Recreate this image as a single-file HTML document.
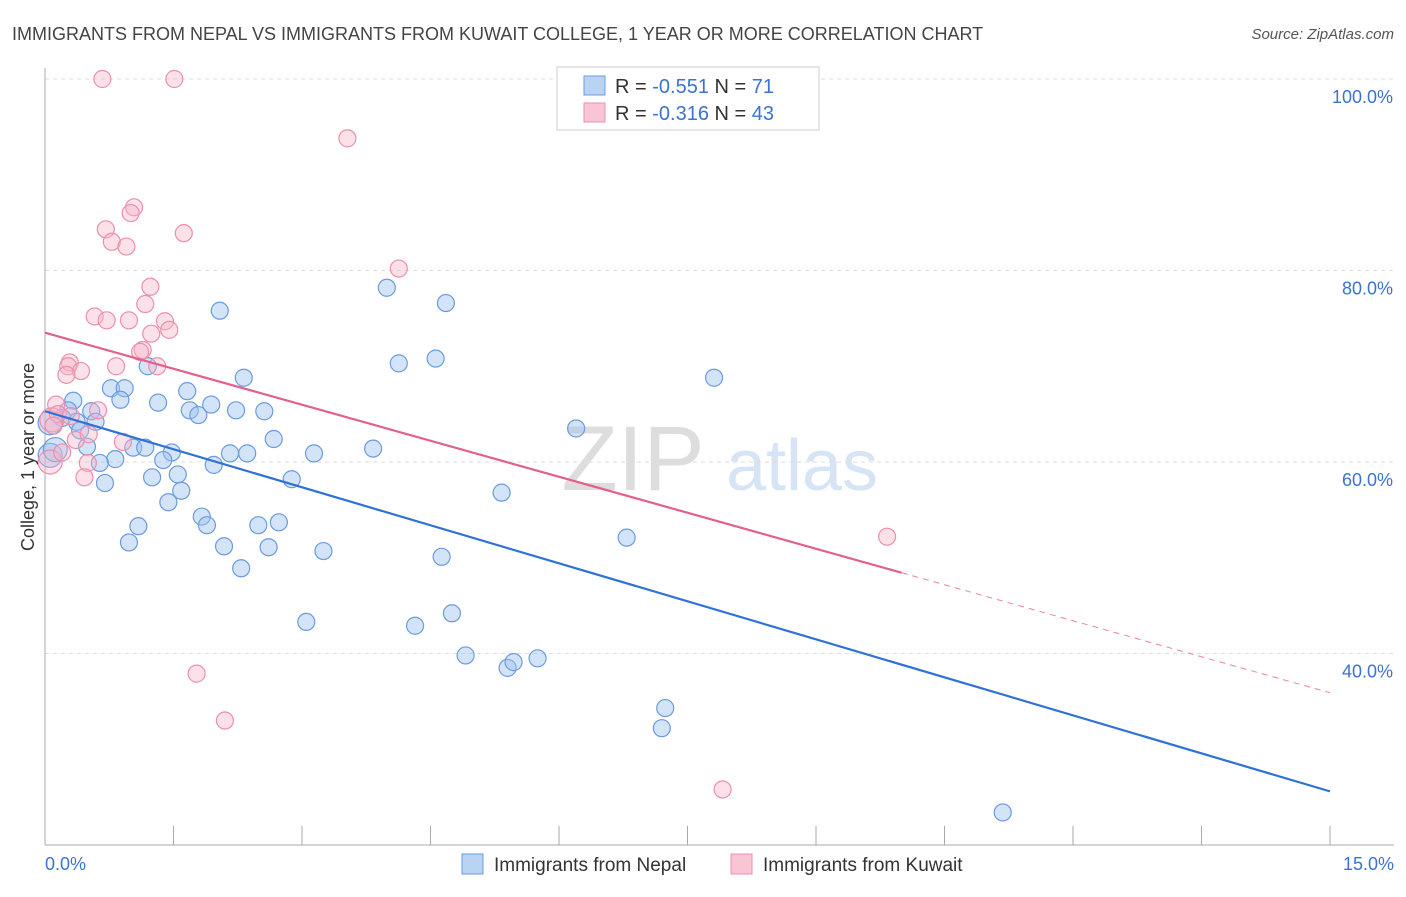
<!DOCTYPE html>
<html><head><meta charset="utf-8"><style>
body{margin:0;background:#fff;font-family:"Liberation Sans",sans-serif;}
svg text{font-family:"Liberation Sans",sans-serif;}
</style></head><body>
<svg id="chart" width="1406" height="892" xmlns="http://www.w3.org/2000/svg">
<text x="12" y="40" font-size="18" fill="#444">IMMIGRANTS FROM NEPAL VS IMMIGRANTS FROM KUWAIT COLLEGE, 1 YEAR OR MORE CORRELATION CHART</text>
<text x="1394" y="39" font-size="15" fill="#555" font-style="italic" text-anchor="end">Source: ZipAtlas.com</text>
<g>
<text x="633" y="490" font-size="92" fill="#ddd" font-family="Liberation Serif" text-anchor="middle">ZIP</text>
<text x="802" y="490" font-size="72" fill="#d6e4f5" text-anchor="middle">atlas</text>
</g>
<g id="grid"></g>
<g id="axes"></g>
<g id="pts"></g>
<g id="lines"></g>
<text transform="translate(34,457) rotate(-90)" font-size="18" fill="#333" text-anchor="middle">College, 1 year or more</text>
<g>
<rect x="557" y="67" width="262" height="63" fill="#fff" stroke="#ccc"/>
<rect x="584" y="76" width="21" height="19" fill="#b9d3f3" stroke="#6a9be0"/>
<rect x="584" y="103" width="21" height="19" fill="#f9c5d4" stroke="#ec8fac"/>
<text x="615" y="93" font-size="20" fill="#333">R = <tspan fill="#3b73d0">-0.551</tspan>   N = <tspan fill="#3b73d0"> 71</tspan></text>
<text x="615" y="120" font-size="20" fill="#333">R = <tspan fill="#3b73d0">-0.316</tspan>   N = <tspan fill="#3b73d0">43</tspan></text>
</g>
<g>
<rect x="462" y="854" width="21" height="20" fill="#b9d3f3" stroke="#6a9be0"/>
<text x="494" y="871" font-size="19" fill="#333">Immigrants from Nepal</text>
<rect x="731" y="854" width="21" height="20" fill="#f9c5d4" stroke="#ec8fac"/>
<text x="763" y="871" font-size="19" fill="#333">Immigrants from Kuwait</text>
</g>
</svg>
<script>
const yTicks=[100,80,60,40];
const yTickLabels=["100.0%","80.0%","60.0%","40.0%"];
const xEndLabels=["0.0%","15.0%"];
const nepalX=[2.04,3.99,4.68,4.13,4.56,7.81,2.32,1.20,0.77,0.93,0.88,1.32,1.66,0.33,0.27,0.54,1.69,1.79,1.94,2.23,2.56,0.2,0.37,0.59,0.41,2.67,6.2,0.49,1.03,1.17,1.48,2.16,2.36,3.14,3.83,0.82,1.38,0.64,1.97,1.55,1.25,2.88,0.70,1.59,5.33,1.44,1.83,1.09,1.89,2.49,2.73,0.98,2.09,2.61,3.25,6.79,4.63,2.29,3.05,4.32,4.75,4.91,5.4,5.47,5.75,7.24,7.20,11.18,0.06,0.12,0.06];
const nepalY=[75.8,78.2,76.6,70.3,70.8,68.8,68.8,70.0,67.7,67.7,66.5,66.2,67.4,66.4,65.4,65.3,65.4,64.9,66.0,65.4,65.3,64.6,64.2,64.2,63.3,62.4,63.5,61.6,61.5,61.5,61.0,60.9,60.9,60.9,61.4,60.3,60.2,59.9,59.7,58.7,58.4,58.2,57.8,57.0,56.8,55.8,54.3,53.3,53.4,53.4,53.7,51.6,51.2,51.1,50.7,52.1,50.1,48.9,43.3,42.9,44.2,39.8,38.5,39.1,39.5,34.3,32.2,23.4,60.7,61.3,64.1];
const kuwaitX=[0.67,1.51,3.53,1.04,1.0,0.71,1.62,0.78,0.95,4.13,1.23,1.17,0.58,0.72,0.98,1.40,1.45,1.24,1.14,1.11,1.31,0.83,0.29,0.27,0.42,0.25,0.13,0.62,0.08,0.36,0.51,0.91,0.5,0.46,0.06,9.83,1.77,2.1,7.91,0.15,0.1,0.3,0.2];
const kuwaitY=[100,100,93.8,86.6,86.0,84.3,83.9,83.0,82.5,80.2,78.3,76.5,75.2,74.8,74.8,74.7,73.8,73.4,71.7,71.5,70.0,70.0,70.4,70.0,69.5,69.1,66.0,65.4,64.4,62.3,62.9,62.1,59.9,58.4,60.0,52.2,37.9,33.0,25.8,65.0,63.8,64.8,61.0];
const nepalTrend=[65.3,25.6];
const kuwaitTrend=[73.5,35.9];
const kuwaitSolidEnd=10.0;
const NS="http://www.w3.org/2000/svg";
const X0=45,X1=1330,Y0=79,Y1=845;
function sx(v){return X0+(v/15)*(X1-X0);}
function sy(v){return Y0+(100-v)/80*(Y1-Y0);}
function mk(tag,attrs,parent){const e=document.createElementNS(NS,tag);for(const k in attrs)e.setAttribute(k,attrs[k]);parent.appendChild(e);return e;}
const grid=document.getElementById('grid'),axes=document.getElementById('axes'),pts=document.getElementById('pts'),lines=document.getElementById('lines');
yTicks.forEach((t,i)=>{
 const l=mk('line',{x1:X0,x2:1394,y1:sy(t),y2:sy(t),stroke:'#ddd','stroke-dasharray':'4,4'},grid);
 
 
 const tx=mk('text',{x:1393,y:sy(t)+24,'font-size':18,fill:'#3b73d0','text-anchor':'end'},axes);
 tx.textContent=yTickLabels[i];
 
 
});
mk('line',{x1:X0,x2:X0,y1:68,y2:Y1,stroke:'#aaa'},axes);
mk('line',{x1:X0,x2:1394,y1:Y1,y2:Y1,stroke:'#aaa'},axes);
for(let i=0;i<=10;i++){mk('line',{x1:sx(i*1.5),x2:sx(i*1.5),y1:826,y2:Y1,stroke:'#aaa'},axes);}
const xl0=mk('text',{x:45,y:870,'font-size':18,fill:'#3b73d0'},axes);xl0.textContent=xEndLabels[0];


const xl1=mk('text',{x:1394,y:870,'font-size':18,fill:'#3b73d0','text-anchor':'end'},axes);xl1.textContent=xEndLabels[1];


nepalX.forEach((x,i)=>{
 const c=mk('circle',{cx:sx(x),cy:sy(nepalY[i]),r:(x<0.15?12:8.5),fill:'rgba(160,196,240,0.45)',stroke:'#6a9be0','stroke-width':1.2},pts);
 
 
});
kuwaitX.forEach((x,i)=>{
 const c=mk('circle',{cx:sx(x),cy:sy(kuwaitY[i]),r:(x<0.1?12:8.5),fill:'rgba(248,180,200,0.4)',stroke:'#ec8fac','stroke-width':1.2},pts);
 
 
});
const nl=mk('line',{x1:sx(0),y1:sy(nepalTrend[0]),x2:sx(15),y2:sy(nepalTrend[1]),stroke:'#2f72d6','stroke-width':2.2},lines);


const kAt=v=>kuwaitTrend[0]+(kuwaitTrend[1]-kuwaitTrend[0])*v/15;
const kl=mk('line',{x1:sx(0),y1:sy(kAt(0)),x2:sx(kuwaitSolidEnd),y2:sy(kAt(kuwaitSolidEnd)),stroke:'#e2608a','stroke-width':2.2},lines);


const kd=mk('line',{x1:sx(kuwaitSolidEnd),y1:sy(kAt(kuwaitSolidEnd)),x2:sx(15),y2:sy(kAt(15)),stroke:'#e9849f','stroke-width':1,'stroke-dasharray':'6,5'},lines);


</script>
</body></html>
